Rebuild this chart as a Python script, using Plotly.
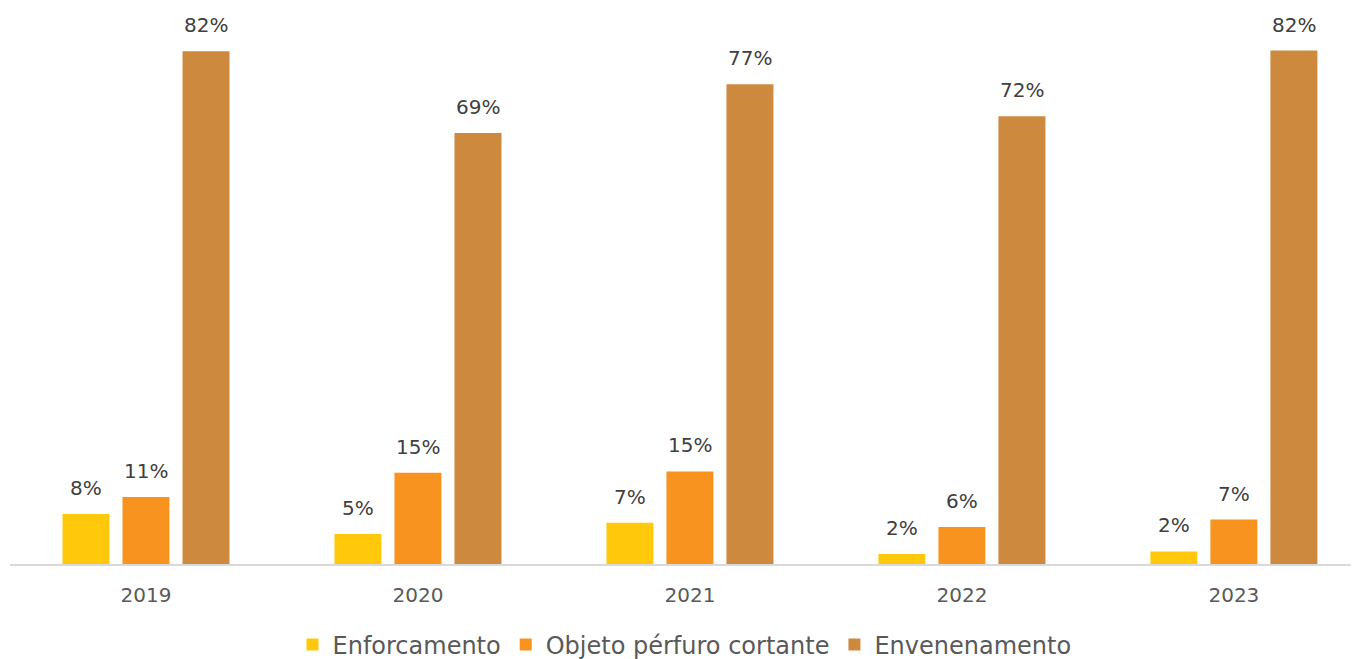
import plotly.graph_objects as go

years = ["2019", "2020", "2021", "2022", "2023"]
series_names = ["Enforcamento", "Objeto pérfuro cortante", "Envenenamento"]
enforcamento = [0.080, 0.048, 0.066, 0.016, 0.020]
objeto = [0.107, 0.146, 0.148, 0.059, 0.071]
envenenamento = [0.820, 0.689, 0.767, 0.716, 0.821]

colors = ["#FFC80B", "#F7931E", "#CD8A3E"]
series_values = [enforcamento, objeto, envenenamento]
FONT = "DejaVu Sans"
TXT = "#404040"

fig = go.Figure()
for name, vals, col in zip(series_names, series_values, colors):
    fig.add_trace(go.Bar(name=name, x=years, y=vals, marker=dict(color=col, line=dict(width=0))))

annotations = []
for i, vals in enumerate(series_values):
    for j, v in enumerate(vals):
        annotations.append(dict(
            x=j, y=v, xref="x", yref="y", text=f"{round(v*100):.0f}%",
            showarrow=False, yanchor="bottom", yshift=12, xshift=(i - 1) * 60,
            font=dict(family=FONT, size=20, color=TXT)))

fig.update_layout(
    width=1351, height=651,
    margin=dict(l=2, r=0, t=0, b=95, autoexpand=False),
    paper_bgcolor="white", plot_bgcolor="white",
    barmode="group", bargap=0.338, bargroupgap=0.217,
    showlegend=True,
    legend=dict(orientation="h", x=0.5, xanchor="center", y=-0.105, yanchor="top",
                font=dict(family=FONT, size=24, color="#595959"),
                itemwidth=30, tracegroupgap=0),
    annotations=annotations,
    font=dict(family=FONT, color="#595959"),
)
fig.update_xaxes(type="category", range=[-0.5, 4.46], showline=True, linecolor="#D9D9D9", linewidth=1.5,
                 ticks="", tickfont=dict(family=FONT, size=20, color="#595959"),
                 showgrid=False, ticklabelstandoff=12)
fig.update_yaxes(range=[0, 0.889], visible=False, showgrid=False)

fig.write_html("out.html")
